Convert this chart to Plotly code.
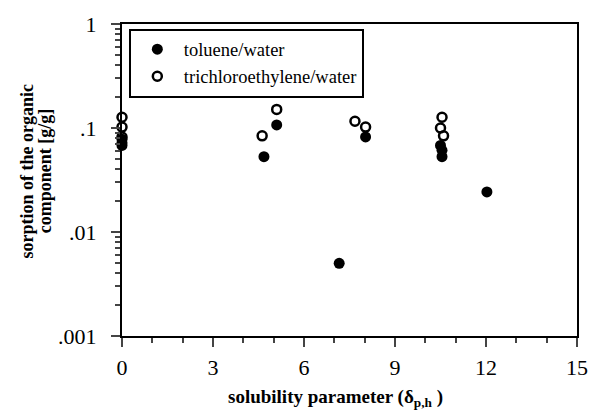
import numpy as np
import plotly.graph_objects as go

# toluene/water (filled)
tol_x = [0, 0, 0, 4.68, 5.1, 7.16, 8.03, 10.5, 10.55, 10.55, 12.03]
tol_y = [0.078, 0.072, 0.068, 0.053, 0.107, 0.005, 0.082, 0.068, 0.061, 0.053, 0.0243]

# trichloroethylene/water (open)
tce_x = [0, 0, 0, 4.62, 5.1, 7.68, 8.03, 10.55, 10.5, 10.6]
tce_y = [0.127, 0.102, 0.082, 0.084, 0.151, 0.116, 0.102, 0.127, 0.1, 0.084]

ytick_vals = [0.001, 0.01, 0.1, 1]
ytick_text = [".001", ".01", ".1", "1"]
xtick_vals = [0, 3, 6, 9, 12, 15]

y_title_lines = ["sorption of the organic", "component [g/g]"]
x_title = "solubility parameter (δ<sub>p,h</sub> )"

serif = "Liberation Serif"

fig = go.Figure()
fig.add_trace(go.Scatter(
    x=tol_x, y=tol_y, mode="markers", name="toluene/water",
    marker=dict(symbol="circle", size=11, color="black"),
    cliponaxis=False))
fig.add_trace(go.Scatter(
    x=tce_x, y=tce_y, mode="markers", name="trichloroethylene/water",
    marker=dict(symbol="circle-open", size=9, color="black", line=dict(width=2.5)),
    cliponaxis=False))

minor_y = [m * 10.0 ** e for e in range(-3, 0) for m in range(2, 10)]

fig.update_layout(
    width=600, height=414,
    margin=dict(l=122, r=14, t=18, b=78),
    paper_bgcolor="white", plot_bgcolor="white",
    font=dict(family=serif, color="black", size=20),
    showlegend=True,
    legend=dict(x=0.015, y=0.985, xanchor="left", yanchor="top",
                bordercolor="black", borderwidth=2, itemwidth=43,
                font=dict(family=serif, size=18.5, color="black"),
                bgcolor="white"),
    xaxis=dict(range=[0, 15], tickvals=xtick_vals, ticks="outside", ticklen=9,
               tickwidth=2, showline=True, linecolor="black", linewidth=2,
               mirror=True, showgrid=False, zeroline=False,
               tickfont=dict(family=serif, size=22), ticklabelstandoff=2,
               minor=dict(dtick=1, ticks="outside", ticklen=5, tickwidth=2,
                          showgrid=False)),
    yaxis=dict(type="log", range=[-3, 0], tickvals=ytick_vals, ticktext=ytick_text,
               ticks="outside", ticklen=9, tickwidth=2, showline=True,
               linecolor="black", linewidth=2, mirror=True, showgrid=False,
               zeroline=False, tickfont=dict(family=serif, size=22),
               ticklabelstandoff=10,
               minor=dict(tickmode="array", tickvals=minor_y, ticks="outside",
                          ticklen=5, tickwidth=1.5, showgrid=False)),
)

for xpos, line in zip([-0.209, -0.170], y_title_lines):
    fig.add_annotation(text="<b>" + line + "</b>", xref="paper", yref="paper",
                       x=xpos, y=0.53, xanchor="center", yanchor="middle",
                       textangle=-90, showarrow=False,
                       font=dict(family=serif, size=18, color="black"))

fig.add_annotation(text="<b>" + x_title + "</b>", xref="paper", yref="paper",
                   x=0.47, y=-0.2, xanchor="center", yanchor="middle",
                   showarrow=False, font=dict(family=serif, size=19, color="black"))

fig.write_html("out.html")
